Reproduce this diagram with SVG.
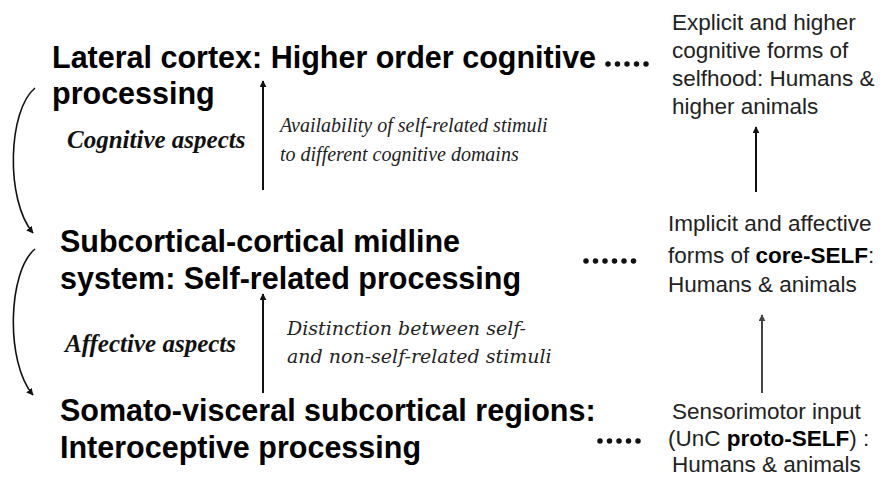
<svg xmlns="http://www.w3.org/2000/svg" width="886" height="478" viewBox="0 0 886 478">
<defs>
<marker id="ah" viewBox="0 0 10 10" refX="9" refY="5" markerWidth="7" markerHeight="7" orient="auto" markerUnits="userSpaceOnUse">
<path d="M0,0 L10,5 L0,10 z" fill="#111"/>
</marker>
<marker id="ahg" viewBox="0 0 10 10" refX="9" refY="5" markerWidth="7" markerHeight="7" orient="auto" markerUnits="userSpaceOnUse">
<path d="M0,0 L10,5 L0,10 z" fill="#444"/>
</marker>
</defs>
<style>
.lvl{font-family:"Liberation Sans",Arial,sans-serif;font-weight:bold;font-size:30.5px;fill:#000}
.asp{font-family:"Liberation Serif","Times New Roman",serif;font-weight:bold;font-style:italic;font-size:25px;fill:#111}
.desc{font-family:"Liberation Serif","Times New Roman",serif;font-style:italic;font-size:20px;fill:#222}
.desc2{font-family:"DejaVu Serif",serif;font-style:italic;font-size:19px;fill:#222}
.side{font-family:"Liberation Sans",Arial,sans-serif;font-size:22.5px;fill:#222}
.side tspan.b{font-weight:bold;fill:#000}
.ar{stroke:#111;stroke-width:2;fill:none}
.arg{stroke:#444;stroke-width:2;fill:none}
.dots{stroke:#111;stroke-width:5.5;stroke-linecap:round;stroke-dasharray:0 9.5;fill:none}
.curve{stroke:#111;stroke-width:1.6;fill:none}
</style>
<rect width="886" height="478" fill="#fff"/>

<g id="lateral">
<text class="lvl" x="52" y="68">Lateral cortex: Higher order cognitive</text>
<text class="lvl" x="52" y="104">processing</text>
</g>
<g id="midline">
<text class="lvl" x="60" y="252">Subcortical-cortical midline</text>
<text class="lvl" x="60" y="289">system: Self-related processing</text>
</g>
<g id="somato">
<text class="lvl" x="60" y="421">Somato-visceral subcortical regions:</text>
<text class="lvl" x="60" y="458">Interoceptive processing</text>
</g>
<g id="explicit">
<text class="side" x="672" y="30">Explicit and higher</text>
<text class="side" x="672" y="58">cognitive forms of</text>
<text class="side" x="672" y="86">selfhood: Humans &amp;</text>
<text class="side" x="672" y="114">higher animals</text>
</g>
<g id="implicit">
<text class="side" x="668" y="231">Implicit and affective</text>
<text class="side" x="668" y="263">forms of <tspan class="b">core-SELF</tspan>:</text>
<text class="side" x="668" y="292">Humans &amp; animals</text>
</g>
<g id="sensorimotor">
<text class="side" x="672" y="419">Sensorimotor input</text>
<text class="side" x="668" y="446">(UnC <tspan class="b">proto-SELF</tspan>) :</text>
<text class="side" x="672" y="472">Humans &amp; animals</text>
</g>
<g id="labels">
<text class="asp" x="67" y="148">Cognitive aspects</text>
<text class="desc" x="280" y="132">Availability of self-related stimuli</text>
<text class="desc" x="280" y="161">to different cognitive domains</text>
<text class="asp" x="65" y="352">Affective aspects</text>
<text class="desc2" x="287" y="335">Distinction between self-</text>
<text class="desc2" x="287" y="363">and non-self-related stimuli</text>
</g>

<g id="connectors">
<line class="ar" x1="263" y1="190" x2="263" y2="81" marker-end="url(#ah)"/>
<line class="ar" x1="263" y1="393" x2="263" y2="294" marker-end="url(#ah)"/>
<line class="ar" x1="756" y1="192" x2="756" y2="127" marker-end="url(#ah)"/>
<line class="arg" x1="762" y1="393" x2="762" y2="315" marker-end="url(#ahg)"/>
<path class="curve" d="M35,88 C8,110 5,200 33,233" marker-end="url(#ah)"/>
<path class="curve" d="M35,249 C8,271 5,362 33,395" marker-end="url(#ah)"/>
<line class="dots" x1="608" y1="64" x2="650" y2="64"/>
<line class="dots" x1="586" y1="261" x2="634" y2="261"/>
<line class="dots" x1="600" y1="441" x2="640" y2="441"/>
</g>
</svg>
